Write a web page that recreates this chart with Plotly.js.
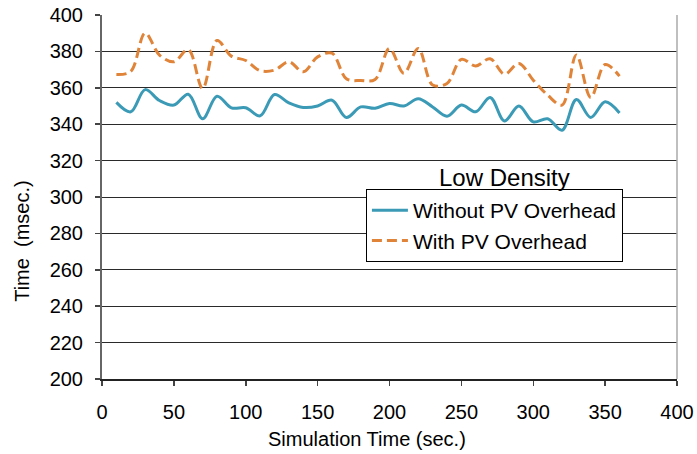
<!DOCTYPE html>
<html>
<head>
<meta charset="utf-8">
<script src="https://cdn.plot.ly/plotly-3.0.1.min.js"></script>
<style>html,body{margin:0;padding:0;background:#fff;}#chart{width:697px;height:454px;}</style>
</head>
<body>
<div id="chart"></div>
<script>
const simTime = [10,20,30,40,50,60,70,80,90,100,110,120,130,140,150,160,170,180,190,200,210,220,230,240,250,260,270,280,290,300,310,320,330,340,350,360];
const withoutPV = [352,346.8,359,353,350.5,356.5,343,355.4,349,349,344.6,356.3,351.7,349.2,350,353.2,343.7,349.5,348.8,351.4,350,354,349.5,344.4,350.5,346.8,354.7,341.8,350,341.3,343,336.7,353.6,343.7,352.3,346.2];
const withPV = [367.3,369,390,378,374.3,381,359.6,386,377.4,375,369.4,369.7,374.3,368.8,377,379,365,364,364.6,381.6,368,381.6,361.5,362.4,375.6,372,376,367.5,373.4,364.2,356,350.5,378,354.7,372.8,366.4];
const seriesNames = ["Without PV Overhead", "With PV Overhead"];
const legendTitle = "Low Density";
const xTitle = "Simulation Time (sec.)";
const yTitle = "Time  (msec.)";

const FONT = "Liberation Sans, Arial, sans-serif";

const traces = [
  {x: simTime, y: withoutPV, name: seriesNames[0], type: "scatter", mode: "lines",
   line: {color: "#3b9ab6", width: 3, shape: "spline", smoothing: 1}},
  {x: simTime, y: withPV, name: seriesNames[1], type: "scatter", mode: "lines",
   line: {color: "#e0843a", width: 3, shape: "spline", smoothing: 1, dash: "10px,5px"}}
];

const layout = {
  width: 697, height: 454,
  margin: {l: 102, r: 20, t: 15, b: 75},
  paper_bgcolor: "#fff", plot_bgcolor: "#fff",
  font: {family: FONT, size: 20, color: "#000"},
  showlegend: true,
  legend: {x: 0.459, y: 0.5216, xanchor: "left", yanchor: "top",
    bordercolor: "#000", borderwidth: 1, bgcolor: "#fff", itemwidth: 36,
    tracegroupgap: 0,
    font: {family: FONT, size: 21, color: "#000"}},
  xaxis: {range: [0, 400], dtick: 50, tick0: 0, showgrid: false, zeroline: false,
    showline: true, linecolor: "#222", linewidth: 1.5,
    ticks: "outside", ticklen: 5, tickcolor: "#444", tickwidth: 1.5,
    ticklabelstandoff: 9, tickfont: {family: FONT, size: 20, color: "#000"},
    mirror: false},
  yaxis: {range: [200, 400], dtick: 20, tick0: 200, showgrid: true, gridcolor: "#2a2a2a", gridwidth: 1,
    zeroline: false, showline: true, linecolor: "#666", linewidth: 2,
    ticks: "outside", ticklen: 5, tickcolor: "#444", tickwidth: 1.5,
    ticklabelstandoff: 8, tickfont: {family: FONT, size: 20, color: "#000"}},
  shapes: [
    {type: "line", xref: "paper", yref: "paper", x0: 1, x1: 1, y0: 0, y1: 1,
     line: {color: "#aaa", width: 1.5}}
  ],
  annotations: [
    {text: legendTitle, xref: "paper", yref: "paper", x: 0.700, y: 0.5526,
     xanchor: "center", yanchor: "middle", showarrow: false,
     font: {family: FONT, size: 24, color: "#000"}},
    {text: xTitle, xref: "paper", yref: "paper", x: 0.461, y: -0.164,
     xanchor: "center", yanchor: "middle", showarrow: false,
     font: {family: FONT, size: 20, color: "#000"}},
    {text: yTitle, xref: "paper", yref: "paper", x: -0.139, y: 0.377,
     xanchor: "center", yanchor: "middle", showarrow: false, textangle: -90,
     font: {family: FONT, size: 20, color: "#000"}}
  ]
};

Plotly.newPlot("chart", traces, layout, {displayModeBar: false, staticPlot: true});
</script>
</body>
</html>
